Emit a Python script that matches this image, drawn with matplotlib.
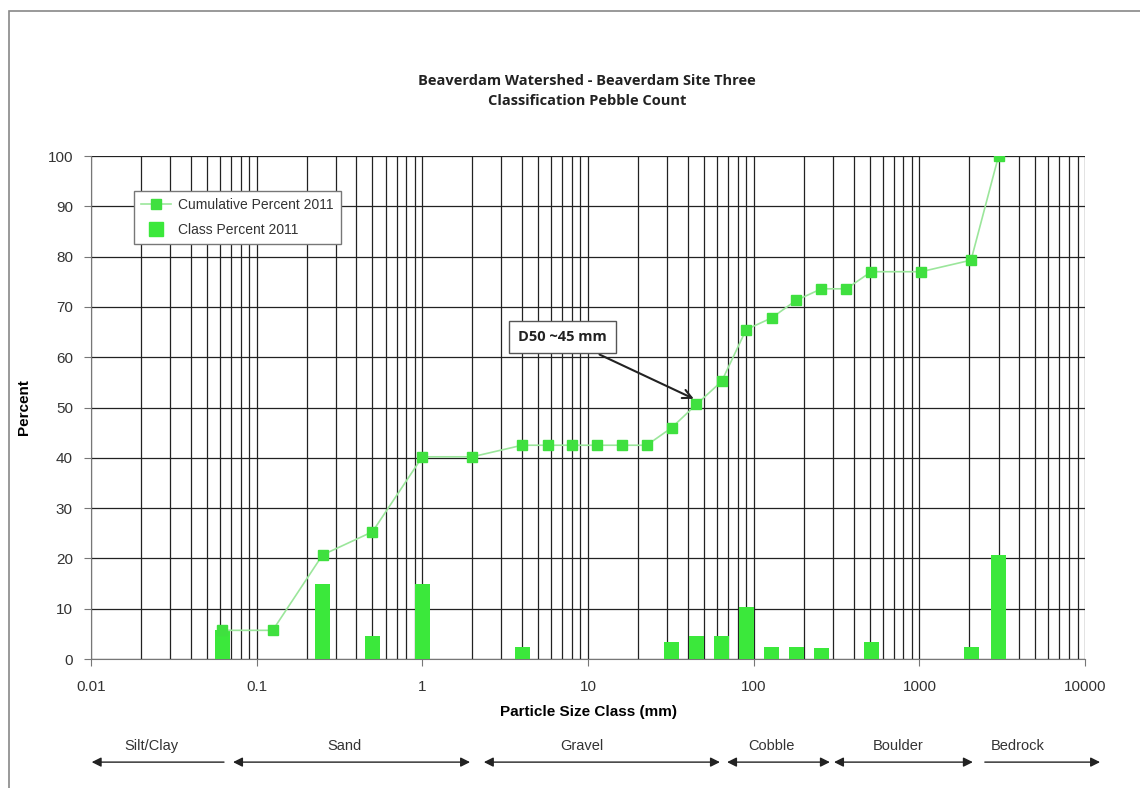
import numpy as np
import matplotlib
matplotlib.use("Agg")
import matplotlib.pyplot as plt
from matplotlib.ticker import FixedLocator, FuncFormatter, NullFormatter
from matplotlib.patches import Rectangle
from matplotlib.lines import Line2D

plt.rcParams['font.family'] = ['Liberation Sans', 'DejaVu Sans']

# particle size classes (mm) and percents
sizes = [0.062, 0.125, 0.25, 0.5, 1, 2, 4, 5.7, 8, 11.3, 16, 22.6,
         32, 45, 64, 90, 128, 180, 256, 362, 512, 1024, 2048, 3000]
cumulative = [5.7, 5.7, 20.7, 25.3, 40.2, 40.2, 42.5, 42.5, 42.5, 42.5, 42.5, 42.5,
              46.0, 50.6, 55.2, 65.5, 67.8, 71.3, 73.6, 73.6, 77.0, 77.0, 79.3, 100.0]
class_pct = [5.7, 0, 14.9, 4.6, 14.9, 0, 2.3, 0, 0, 0, 0, 0,
             3.4, 4.6, 4.6, 10.3, 2.3, 2.3, 2.1, 0, 3.4, 0, 2.3, 20.7]

x_ticks = [0.01, 0.1, 1, 10, 100, 1000, 10000]

# size classes shown under the axis
class_names = ["Silt/Clay", "Sand", "Gravel", "Cobble", "Boulder", "Bedrock"]
class_from = [0.0101, 0.072, 2.35, 69, 305, 2480]
class_to = [0.0635, 1.94, 62.5, 288, 2100, 12300]
class_label_at = [0.0233, 0.34, 9.2, 127, 740, 3900]
class_heads = ["<|-", "<|-|>", "<|-|>", "<|-|>", "<|-|>", "-|>"]

title = "Beaverdam Watershed - Beaverdam Site Three\nClassification Pebble Count"

bar_green = "#3be83b"
mark_green = "#3fe03f"
line_green = "#9be69b"

fig = plt.figure(figsize=(11.4, 7.88), dpi=100)
ax = fig.add_axes([0.0798, 0.1637, 0.8721, 0.6383])

# outer chart border
fig.patches.append(Rectangle((9 / 1140, -0.05), 1.2, 1 - 11 / 788 + 0.05,
                             transform=fig.transFigure, fill=False,
                             edgecolor="#888888", lw=1.2))

x = np.array(sizes)
half = 10 ** 0.045
widths = x * half - x / half
ax.plot(sizes, cumulative, color=line_green, lw=1.2, marker="s", ms=6.5,
        mfc=mark_green, mec=mark_green, zorder=4)
ax.bar(x / half, class_pct, width=widths, align="edge", color=bar_green,
       zorder=3)

ax.set_xscale("log")
ax.set_xlim(0.01, 10000)
ax.set_ylim(0, 100)
ax.set_yticks(range(0, 101, 10))
ax.xaxis.set_major_locator(FixedLocator(x_ticks))
minor = [m * d for d in x_ticks[:-1] for m in range(2, 10)]
ax.xaxis.set_minor_locator(FixedLocator(minor))
ax.xaxis.set_major_formatter(FuncFormatter(lambda v, p: "%g" % v))
ax.xaxis.set_minor_formatter(NullFormatter())
ax.grid(True, which="both", axis="x", color="#222222", lw=0.9, zorder=1)
ax.grid(True, which="major", axis="y", color="#222222", lw=0.9, zorder=1)
ax.set_axisbelow(True)

for s in ["top", "right"]:
    ax.spines[s].set_visible(False)
for s in ["left", "bottom"]:
    ax.spines[s].set_color("#777777")
ax.tick_params(axis="both", which="major", direction="out", length=5,
               color="#777777", labelsize=11, labelcolor="#333333")
ax.tick_params(axis="x", which="minor", length=0)
ax.tick_params(axis="x", pad=10)
ax.tick_params(axis="y", pad=8)

ax.set_xlabel("Particle Size Class (mm)", fontsize=11, fontweight="bold",
              labelpad=8)
ax.set_ylabel("Percent", fontsize=11, fontweight="bold", labelpad=12)

fig.text(0.515, 0.885, title, ha="center", va="center", fontsize=10.5,
         fontweight="bold", family=["Open Sans", "DejaVu Sans"],
         linespacing=1.55, color="#222222")

# legend: line with marker, and a plain square for the bars
h_cum = Line2D([], [], color=line_green, lw=1.2, marker="s", ms=6.5,
               mfc=mark_green, mec=mark_green)
h_cls = Line2D([], [], ls="none", marker="s", ms=10, mfc=bar_green,
               mec=bar_green)
leg = ax.legend([h_cum, h_cls], ["Cumulative Percent 2011", "Class Percent 2011"],
                loc="upper left", bbox_to_anchor=(0.036, 0.945), fontsize=10,
                frameon=True, fancybox=False, edgecolor="#777777",
                framealpha=1, borderpad=0.5, labelspacing=0.8,
                handlelength=2.2, handletextpad=0.5)
leg.get_frame().set_linewidth(1.0)
for t in leg.get_texts():
    t.set_color("#333333")

# D50 callout
ax.annotate("D50 ~45 mm", xy=(45, 51.5), xytext=(7.0, 64),
            ha="center", va="center", fontsize=10.5, fontweight="bold",
            family=["Open Sans", "DejaVu Sans"], color="#222222", zorder=6,
            bbox=dict(boxstyle="square,pad=0.6", fc="white", ec="#555555", lw=1),
            arrowprops=dict(arrowstyle="->", color="#222222", lw=1.5,
                            mutation_scale=16, shrinkA=2, shrinkB=2))

# size class arrows below the axis
for name, a, b, lx, hd in zip(class_names, class_from, class_to,
                              class_label_at, class_heads):
    ax.annotate("", xy=(b, -20.5), xytext=(a, -20.5), xycoords="data",
                annotation_clip=False,
                arrowprops=dict(arrowstyle=hd, color="#222222", lw=1,
                                mutation_scale=14, shrinkA=0, shrinkB=0))
    ax.text(lx, -17.2, name, ha="center", va="center", fontsize=10.5,
            color="#333333", clip_on=False)

fig.savefig("out.png", dpi=100)
